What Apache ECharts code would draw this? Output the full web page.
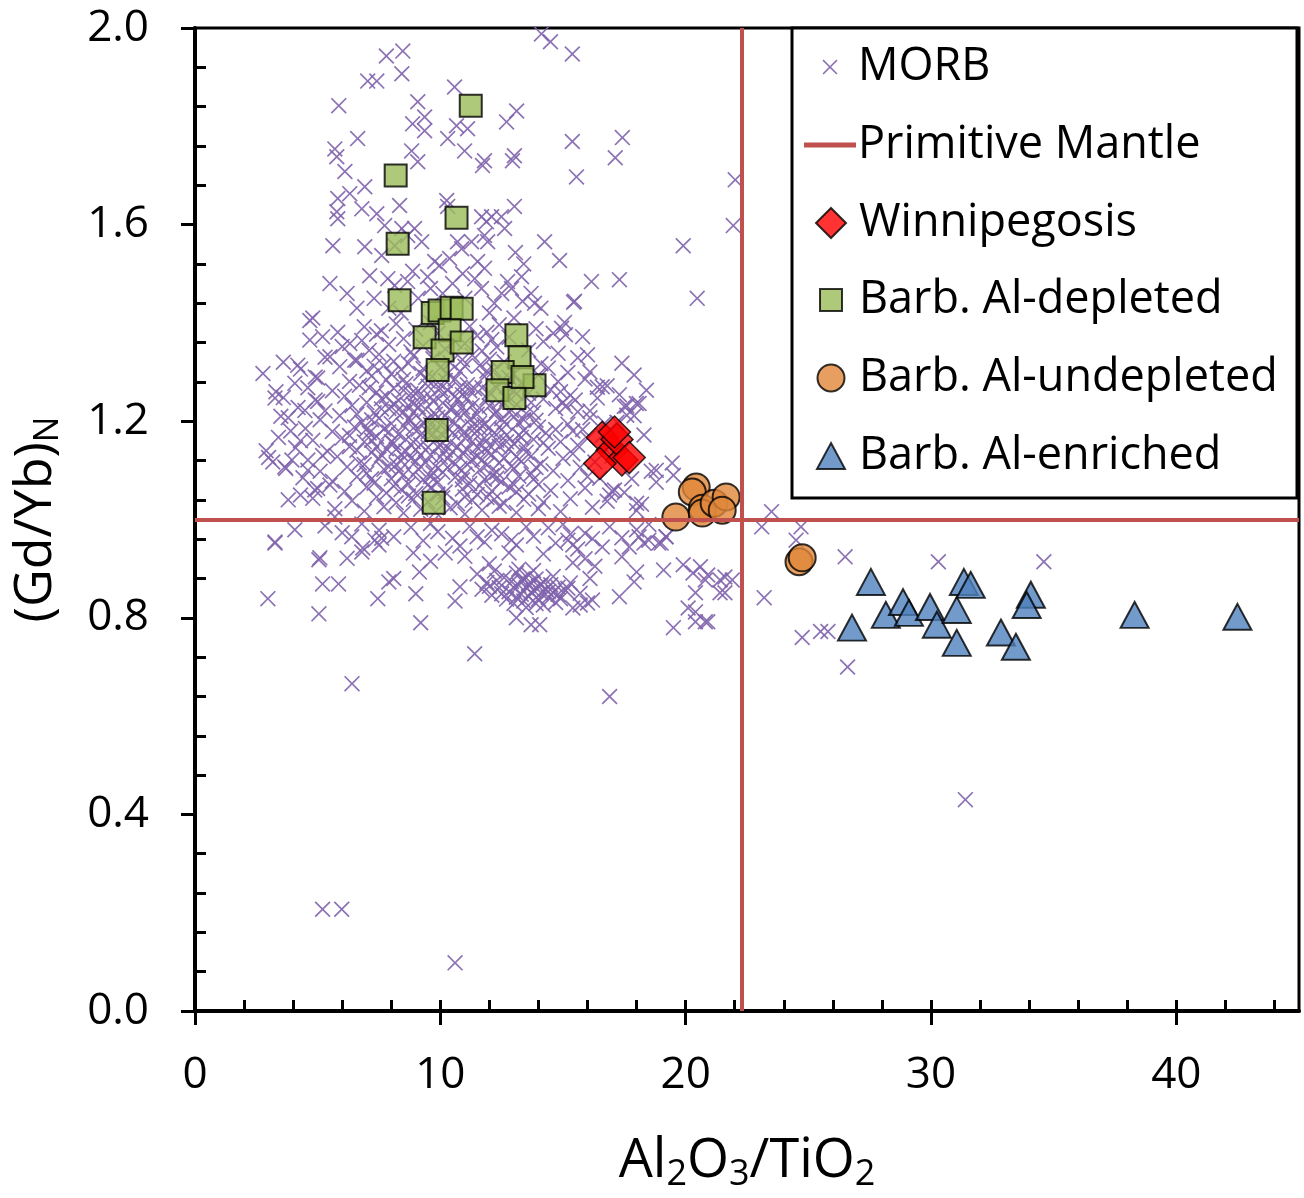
<!DOCTYPE html>
<html>
<head>
<meta charset="utf-8">
<script src="https://cdn.jsdelivr.net/npm/echarts@6/dist/echarts.min.js"></script>
<style>
  html, body { margin: 0; padding: 0; background: #fff; }
  #chart { width: 1304px; height: 1198px; }
</style>
</head>
<body>
<div id="chart"></div>
<script>
// MORB field (Al2O3/TiO2, (Gd/Yb)N)
const morb = [
  // upper scatter
  [7.80,1.943],[8.47,1.953],[8.43,1.907],[7.04,1.892],[7.41,1.892],[10.58,1.880],[5.86,1.842],[9.08,1.850],
  [9.36,1.819],[8.87,1.805],[9.36,1.791],[10.66,1.801],[11.11,1.795],[10.30,1.775],[10.99,1.750],[8.83,1.750],
  [9.08,1.728],[11.80,1.730],[11.72,1.720],[12.70,1.809],[13.11,1.831],[13.02,1.740],[12.94,1.730],[15.38,1.947],
  [14.12,1.988],[14.49,1.972],[15.38,1.769],[15.55,1.697],[5.70,1.754],[5.78,1.738],[6.63,1.775],[6.11,1.708],
  [6.92,1.677],[5.82,1.653],[6.31,1.663],[5.78,1.626],[5.82,1.612],[6.80,1.632],[7.41,1.622],[7.73,1.598],
  [8.34,1.639],[8.95,1.592],[8.43,1.592],[10.26,1.649],[10.30,1.637],[11.68,1.616],[11.88,1.606],[12.09,1.616],
  [12.49,1.616],[13.02,1.637],[12.62,1.592],[11.80,1.578],[11.93,1.565],[14.25,1.565],[5.62,1.557],[6.92,1.555],
  [7.61,1.537],[8.14,1.557],[8.67,1.578],[9.24,1.565],[9.77,1.525],[9.97,1.517],[10.70,1.565],[10.87,1.551],
  [11.27,1.565],[10.38,1.531],[11.52,1.525],[11.80,1.511],[11.68,1.470],[7.12,1.496],[7.86,1.490],[8.14,1.476],
  [8.87,1.505],[8.67,1.484],[9.48,1.494],[10.91,1.500],[12.74,1.484],[13.31,1.494],[13.35,1.444],[13.84,1.440],
  [15.47,1.444],[17.42,1.777],[17.13,1.736],[22.02,1.691],[21.94,1.598],[19.90,1.557],[17.30,1.488],[15.43,1.442],
  [15.06,1.401],[14.94,1.389],[16.16,1.484],[20.47,1.450],[14.86,1.527],[13.06,1.543],[13.40,1.520],[12.90,1.470],
  [13.70,1.460],[14.10,1.430],[9.10,1.450],[9.60,1.470],[10.10,1.460],[10.50,1.480],[11.00,1.450],[11.40,1.490],
  [12.20,1.440],[12.50,1.460],[7.30,1.450],[7.90,1.430],[8.40,1.420],[6.60,1.430],[6.20,1.460],[5.50,1.480],
  [4.80,1.410],[13.00,1.410],[12.00,1.420],
  // left wing
  [4.68,1.405],[4.68,1.365],[5.82,1.381],[6.31,1.358],[6.51,1.324],[2.77,1.297],[3.26,1.247],[3.17,1.117],
  [4.07,1.277],[4.19,1.314],[4.48,1.222],[3.95,1.121],[3.66,1.107],[4.88,1.060],[4.07,0.979],[3.26,0.954],
  [5.09,0.922],[5.70,1.005],[6.39,0.965],[7.33,0.958],[7.61,0.962],[6.84,0.942],[3.50,1.210],[3.90,1.180],
  [4.30,1.160],[3.30,1.260],[2.90,1.140],[3.60,1.320],[4.90,1.290],[5.30,1.330],[5.00,1.240],[4.60,1.100],
  [5.20,1.130],[4.30,1.050],[3.80,1.040],[5.50,1.070],
  // main cloud
  [6.9,1.392],[7.6,1.384],[8.2,1.398],[9.0,1.387],[9.6,1.401],[11.2,1.393],[11.9,1.381],[12.4,1.396],[13.9,1.388],[14.6,1.379],
  [5.2,1.372],[6.8,1.364],[7.4,1.377],[8.5,1.368],[9.9,1.379],[10.6,1.362],[11.5,1.374],[12.1,1.366],[12.8,1.371],[14.2,1.362],[15.1,1.376],
  [6.0,1.352],[7.1,1.344],[7.9,1.356],[8.8,1.341],[9.3,1.353],[10.2,1.347],[11.0,1.358],[11.7,1.343],[12.3,1.351],[13.6,1.345],[14.8,1.338],
  [5.5,1.331],[6.6,1.324],[7.5,1.336],[8.1,1.322],[8.9,1.333],[9.7,1.327],[10.4,1.319],[11.3,1.334],[12.0,1.326],[12.6,1.321],[14.1,1.317],[15.6,1.329],
  [4.3,1.306],[5.9,1.311],[7.0,1.302],[7.7,1.314],[8.4,1.305],[9.2,1.297],[10.0,1.309],[10.8,1.301],[11.6,1.313],[12.2,1.304],[13.0,1.296],[14.4,1.308],[15.2,1.299],
  [5.0,1.288],[6.3,1.281],[7.2,1.292],[7.8,1.284],[8.6,1.276],[9.4,1.289],[9.9,1.279],[10.6,1.286],[11.1,1.274],[11.8,1.291],[12.5,1.283],[13.3,1.277],[14.0,1.294],[15.9,1.286],[16.8,1.272],
  [4.6,1.268],[5.6,1.262],[6.7,1.273],[7.4,1.259],[8.1,1.267],[8.8,1.256],[9.5,1.271],[10.3,1.263],[10.9,1.254],[11.4,1.266],[12.0,1.259],[12.7,1.271],[13.6,1.257],[14.5,1.264],[15.3,1.253],
  [3.6,1.248],[4.9,1.243],[6.1,1.251],[7.0,1.238],[7.6,1.246],[8.3,1.242],[8.9,1.235],[9.6,1.249],[10.1,1.237],[10.7,1.244],[11.3,1.232],[11.9,1.247],[12.4,1.239],[13.1,1.234],[14.2,1.245],[15.0,1.238],[16.4,1.247],
  [4.2,1.228],[5.3,1.221],[6.4,1.232],[7.3,1.217],[7.9,1.226],[8.5,1.219],[9.1,1.229],[9.8,1.214],[10.4,1.224],[11.0,1.218],[11.6,1.227],[12.2,1.213],[12.9,1.222],[13.5,1.216],[14.7,1.226],[15.6,1.219],[17.6,1.231],
  [3.8,1.207],[5.1,1.203],[5.9,1.211],[6.8,1.198],[7.5,1.206],[8.0,1.195],[8.7,1.204],[9.3,1.198],[9.9,1.208],[10.6,1.196],[11.2,1.203],[11.8,1.193],[12.5,1.205],[13.2,1.197],[13.9,1.202],[15.2,1.194],[16.1,1.207],[17.2,1.198],
  [4.5,1.185],[5.6,1.179],[6.5,1.188],[7.1,1.176],[7.7,1.184],[8.3,1.173],[8.9,1.186],[9.5,1.178],[10.1,1.171],[10.8,1.183],[11.4,1.175],[12.0,1.187],[12.7,1.172],[13.4,1.181],[14.3,1.176],[15.8,1.183],[16.6,1.171],
  [3.4,1.167],[4.8,1.161],[6.0,1.166],[6.9,1.158],[7.4,1.169],[8.1,1.155],[8.6,1.163],[9.2,1.152],[9.8,1.162],[10.4,1.157],[11.0,1.166],[11.7,1.151],[12.3,1.161],[13.0,1.154],[13.8,1.163],[14.9,1.158],[16.0,1.165],[18.3,1.172],
  [4.1,1.146],[5.4,1.139],[6.3,1.148],[7.2,1.136],[7.8,1.144],[8.4,1.133],[9.0,1.142],[9.6,1.131],[10.2,1.141],[10.9,1.135],[11.5,1.147],[12.1,1.132],[12.8,1.143],[13.5,1.137],[14.4,1.145],[15.4,1.134],
  [3.0,1.126],[4.6,1.121],[5.8,1.128],[6.7,1.115],[7.5,1.123],[8.2,1.112],[8.8,1.124],[9.4,1.116],[10.0,1.127],[10.6,1.113],[11.3,1.122],[11.9,1.111],[12.6,1.125],[13.3,1.118],[14.1,1.113],[15.0,1.124],[16.3,1.117],[17.0,1.129],
  [3.7,1.104],[5.1,1.098],[6.2,1.107],[7.0,1.094],[7.7,1.102],[8.5,1.091],[9.1,1.103],[9.7,1.095],[10.3,1.106],[11.0,1.092],[11.6,1.101],[12.3,1.096],[13.0,1.104],[13.7,1.093],[14.6,1.099],[15.7,1.106],
  [4.4,1.085],[5.6,1.078],[6.6,1.087],[7.3,1.074],[8.0,1.083],[8.7,1.072],[9.3,1.081],[9.9,1.076],[10.6,1.086],[11.2,1.073],[11.8,1.082],[12.5,1.077],[13.2,1.088],[14.0,1.071],[15.2,1.079],[16.5,1.084],[18.8,1.076],
  [5.0,1.063],[6.1,1.057],[7.0,1.066],[7.8,1.054],[8.4,1.061],[9.0,1.053],[9.6,1.064],[10.2,1.056],[10.9,1.062],[11.5,1.051],[12.1,1.058],[12.8,1.066],[13.6,1.052],[14.5,1.059],[15.9,1.064],[17.5,1.055],
  [4.8,1.043],[6.4,1.038],[7.4,1.046],[8.2,1.034],[8.9,1.041],[9.5,1.036],[10.1,1.044],[10.7,1.032],[11.3,1.039],[11.9,1.045],[12.6,1.033],[13.4,1.041],[14.2,1.035],[15.3,1.042],[16.8,1.037],[18.2,1.031],
  [5.7,1.022],[6.9,1.017],[7.7,1.026],[8.5,1.013],[9.2,1.021],[9.8,1.015],[10.4,1.024],[11.0,1.011],[11.7,1.019],[12.4,1.027],[13.1,1.014],[14.0,1.022],[14.9,1.016],[16.2,1.025],[18.0,1.018],
  // dense core
  [8.5,1.285],[9.1,1.262],[9.7,1.241],[10.2,1.283],[10.5,1.227],[11.1,1.246],[11.7,1.268],[8.2,1.219],[8.8,1.201],[9.4,1.224],
  [10.0,1.193],[10.7,1.212],[11.3,1.189],[12.0,1.231],[12.6,1.198],[8.0,1.158],[8.6,1.139],[9.2,1.172],[9.9,1.148],[10.5,1.176],
  [11.1,1.142],[11.8,1.166],[12.4,1.149],[8.3,1.098],[9.0,1.118],[9.6,1.087],[10.3,1.124],[10.8,1.104],[11.5,1.128],[12.1,1.089],
  [12.9,1.108],[13.3,1.167],[13.7,1.129],[13.1,1.256],[13.8,1.217],[9.3,1.307],[10.9,1.325],[7.6,1.225],[7.2,1.161],[7.9,1.107],
  [8.7,1.232],[9.0,1.256],[10.8,1.269],[11.5,1.214],[12.2,1.176],[9.5,1.205],[10.1,1.255],[11.9,1.138],[12.7,1.245],[13.4,1.203],
  [7.3,1.312],[8.0,1.296],[8.7,1.318],[9.5,1.282],[10.3,1.297],[11.0,1.312],[11.9,1.302],[12.8,1.289],
  [7.1,1.268],[7.8,1.251],[8.5,1.263],[9.3,1.247],[10.0,1.266],[10.6,1.251],[11.2,1.262],[12.3,1.268],[13.0,1.262],
  [6.6,1.214],[7.2,1.203],[8.1,1.234],[8.9,1.217],[9.6,1.193],[10.2,1.211],[10.9,1.229],[11.6,1.196],[12.3,1.221],[13.0,1.209],[13.7,1.238],
  [6.3,1.171],[7.0,1.184],[7.9,1.178],[8.5,1.191],[9.1,1.183],[9.7,1.174],[10.3,1.187],[11.0,1.178],[11.6,1.186],[12.5,1.183],[13.2,1.172],[14.0,1.188],
  [6.6,1.141],[7.4,1.148],[8.2,1.143],[8.9,1.158],[9.5,1.147],[10.1,1.155],[10.7,1.148],[11.3,1.158],[12.0,1.151],[12.7,1.158],[13.4,1.149],[14.2,1.156],
  [6.9,1.112],[7.6,1.131],[8.4,1.119],[9.2,1.131],[9.8,1.109],[10.5,1.138],[11.1,1.112],[11.7,1.121],[12.4,1.115],[13.1,1.128],[13.9,1.106],
  [7.2,1.083],[8.1,1.068],[8.9,1.091],[9.5,1.071],[10.1,1.096],[10.9,1.081],[11.6,1.069],[12.3,1.084],[13.0,1.071],[13.8,1.082],
  [8.7,1.048],[9.9,1.052],[11.0,1.046],[12.2,1.041],[13.1,1.056],
  // right edge of the cloud
  [14.8,1.281],[15.5,1.243],[16.1,1.221],[16.7,1.196],[17.3,1.254],[17.9,1.211],[18.1,1.236],[17.6,1.212],[16.9,1.148],[17.8,1.083],
  [18.6,1.098],[19.45,1.115],[19.5,1.09],[18.8,1.10],[18.0,1.033],[17.0,1.058],[16.0,1.087],[15.6,1.151],[14.7,1.183],[16.4,1.269],
  [17.4,1.318],[16.0,1.335],[15.8,1.372],[17.9,1.294],[18.4,1.263],[17.99,1.236],[15.4,1.180],[15.1,1.230],[16.6,1.270],[16.9,1.050],
  [17.1,1.060],[16.1,1.300],[17.5,1.230],[14.9,1.260],
  // just below the primitive mantle line
  [5.3,0.987],[6.0,0.973],[6.8,0.991],[7.5,0.978],[8.1,0.965],[8.8,0.984],[9.3,0.957],[9.9,0.975],[10.5,0.962],[11.2,0.986],
  [11.8,0.954],[12.5,0.971],[13.1,0.948],[13.8,0.966],[14.4,0.983],[15.2,0.958],[15.9,0.972],[16.6,0.944],[17.4,0.963],[18.0,0.979],
  [18.3,0.952],[19.0,0.952],[18.5,0.990],[19.2,0.965],[17.4,0.924],[15.4,0.948],[15.4,0.912],[10.2,0.932],[8.9,0.932],[6.8,0.934],
  [7.5,0.948],[12.8,0.932],[3.26,0.952],[5.05,0.918],[6.2,0.921],[9.6,0.915],[11.0,0.925],[14.2,0.930],[16.3,0.905],[12.0,0.910],
  [18.1,0.965],[18.5,0.958],[18.9,0.952],[19.2,0.965],[15.0,0.990],[15.3,0.970],[15.6,0.940],[15.9,0.920],[16.1,0.880],[15.2,0.860],
  [15.7,0.850],[16.0,0.830],[15.4,0.820],[9.6,0.992],[10.8,0.946],[12.1,0.978],[13.5,0.985],[14.7,0.952],[16.2,0.961],[16.9,0.985],
  [17.7,0.944],[11.5,0.965],[12.9,0.958],
  // dense patch near 0.87
  [11.5,0.889],[11.9,0.872],[12.2,0.895],[12.4,0.861],[12.6,0.882],[12.8,0.853],[12.9,0.874],[13.1,0.891],[13.2,0.866],[13.3,0.848],
  [13.4,0.879],[13.5,0.861],[13.6,0.887],[13.6,0.843],[13.7,0.871],[13.8,0.856],[13.9,0.879],[14.0,0.864],[14.0,0.838],[14.1,0.851],
  [14.2,0.873],[14.3,0.858],[14.4,0.842],[14.5,0.867],[14.6,0.851],[14.8,0.862],[14.9,0.839],[15.1,0.856],[15.3,0.871],[12.1,0.846],
  [12.7,0.838],[13.0,0.829],[13.4,0.834],[13.9,0.829],[14.2,0.826],[13.2,0.899],[13.8,0.896],[14.6,0.884],[11.7,0.858],[12.3,0.876],
  [13.5,0.821],[14.7,0.831],[12.0,0.864],[12.5,0.849],[13.0,0.861],[13.3,0.877],[13.7,0.852],[14.1,0.866],[14.4,0.853],[13.6,0.869],
  [14.8,0.848],[13.1,0.842],
  // sparse lower points
  [13.1,0.800],[13.7,0.786],[14.05,0.786],[15.7,0.826],[16.2,0.836],[17.3,0.843],[17.9,0.873],[19.5,0.780],[20.1,0.820],[20.4,0.812],
  [20.4,0.792],[20.9,0.792],[20.4,0.851],[19.9,0.908],[20.6,0.904],[20.9,0.887],[21.6,0.851],[21.9,0.877],[19.1,0.897],[18.0,0.893],
  [5.2,0.869],[5.85,0.869],[2.97,0.839],[5.05,0.808],[7.45,0.839],[8.1,0.880],[7.9,0.873],[9.0,0.849],[9.2,0.790],[9.15,0.893],
  [10.6,0.834],[10.8,0.863],[11.4,0.727],[6.4,0.666],[16.9,0.640],[5.2,0.207],[5.98,0.207],[10.6,0.098],
  [20.3,0.891],[20.8,0.877],[21.4,0.877],[21.6,0.883],[21.4,0.851],[20.8,0.792],
  // right of the primitive mantle line
  [23.5,1.016],[23.1,0.985],[24.7,0.985],[24.5,0.958],[26.5,0.924],[23.2,0.841],[24.75,0.760],[25.5,0.772],[25.8,0.772],[26.6,0.700],
  [30.3,0.914],[34.6,0.914],[31.4,0.430]
];

const winnipegosis = [[16.6,1.167],[17.0,1.141],[17.4,1.121],[16.5,1.114],[17.2,1.163],[17.7,1.126],[17.1,1.178]];

const alDepleted = [
  [11.24,1.842],[8.18,1.700],[10.66,1.614],[8.26,1.561],[8.34,1.446],[9.69,1.420],[9.97,1.425],[10.46,1.431],
  [10.87,1.429],[9.36,1.371],[10.38,1.385],[10.09,1.344],[10.87,1.360],[9.89,1.304],[13.10,1.375],[13.23,1.330],
  [12.54,1.300],[12.33,1.263],[13.84,1.273],[13.02,1.247],[13.35,1.290],[9.85,1.182],[9.73,1.034]
];

const alUndepleted = [
  [19.6,1.005],[20.43,1.066],[20.27,1.056],[20.68,1.023],[20.68,1.013],[21.16,1.033],[21.65,1.046],[21.49,1.019],
  [24.62,0.914],[24.75,0.922]
];

const alEnriched = [
  [27.55,0.873],[26.78,0.780],[28.16,0.806],[28.86,0.832],[29.10,0.810],[29.96,0.822],[30.24,0.786],[31.05,0.816],
  [31.34,0.873],[31.62,0.867],[31.05,0.749],[32.85,0.770],[33.46,0.741],[34.07,0.847],[33.90,0.826],[38.30,0.806],
  [42.49,0.802]
];

// primitive mantle reference values
const pmAlTi = 22.3;
const pmGdYb = 1.0;

// ticks
const xLabelTicks = [0, 10, 20, 30, 40];
const xInnerTicks = [2, 4, 6, 8, 10, 12, 14, 16, 18, 20, 22, 24, 26, 28, 30, 32, 34, 36, 38, 40, 42, 44];
const yLabelTicks = [0, 0.4, 0.8, 1.2, 1.6, 2.0];
const yInnerTicks = [0.08, 0.16, 0.24, 0.32, 0.48, 0.56, 0.64, 0.72, 0.88, 0.96, 1.04, 1.12,
  1.28, 1.36, 1.44, 1.52, 1.68, 1.76, 1.84, 1.92];

const font = '"Open Sans", "Noto Sans", sans-serif';
// thin x mark, filled outline
const crossPath = 'path://M0,0.75 L0.75,0 L5,4.25 L9.25,0 L10,0.75 L5.75,5 L10,9.25 L9.25,10 L5,5.75 L0.75,10 L0,9.25 L4.25,5 Z';

const chart = echarts.init(document.getElementById('chart'), null, { renderer: 'canvas' });

// one legend per row so each icon gets its own size
function legendRow(name, icon, w, h, cy, extra) {
  return Object.assign({
    data: [{ name: name, icon: icon }],
    orient: 'vertical',
    left: 830 - w / 2,
    top: cy - 26,
    padding: 0,
    itemWidth: w,
    itemHeight: h,
    selectedMode: false,
    z: 20,
    textStyle: {
      fontFamily: font,
      fontSize: 45,
      color: '#000',
      lineHeight: 52,
      padding: [0, 0, 0, 28 - w / 2 - 5]
    }
  }, extra || {});
}

const option = {
  animation: false,
  backgroundColor: '#fff',
  grid: {
    left: 195,
    right: 5,
    top: 28,
    bottom: 186,
    show: true,
    borderColor: '#000',
    borderWidth: 3,
    backgroundColor: 'transparent'
  },
  xAxis: [
    {
      type: 'value',
      min: 0,
      max: 45,
      position: 'bottom',
      name: 'Al{s|2}O{s|3}/TiO{s|2}',
      nameLocation: 'middle',
      nameGap: 120,
      nameTextStyle: {
        fontFamily: font,
        fontSize: 54,
        color: '#000',
        rich: { s: { fontFamily: font, fontSize: 36, color: '#000', padding: [26, 0, 0, 0] } }
      },
      axisLine: { show: true, onZero: false, lineStyle: { color: '#000', width: 4 } },
      axisTick: { show: true, length: 14, customValues: xLabelTicks, lineStyle: { color: '#000', width: 3 } },
      axisLabel: { customValues: xLabelTicks, fontFamily: font, fontSize: 44, color: '#000', margin: 42 },
      splitLine: { show: false }
    },
    {
      type: 'value',
      min: 0,
      max: 45,
      position: 'bottom',
      axisLine: { show: false },
      axisTick: { show: true, inside: true, length: 11, customValues: xInnerTicks, lineStyle: { color: '#000', width: 3 } },
      axisLabel: { show: false },
      splitLine: { show: false }
    }
  ],
  yAxis: [
    {
      type: 'value',
      min: 0,
      max: 2,
      position: 'left',
      name: '(Gd/Yb){s|N}',
      nameLocation: 'middle',
      nameRotate: 90,
      nameGap: 130,
      nameTextStyle: {
        fontFamily: font,
        fontSize: 52,
        color: '#000',
        rich: { s: { fontFamily: font, fontSize: 34, color: '#000', padding: [24, 0, 0, 0] } }
      },
      axisLine: { show: true, onZero: false, lineStyle: { color: '#000', width: 4 } },
      axisTick: { show: true, length: 14, customValues: yLabelTicks, lineStyle: { color: '#000', width: 3 } },
      axisLabel: {
        customValues: yLabelTicks,
        fontFamily: font,
        fontSize: 44,
        color: '#000',
        margin: 46,
        formatter: v => v.toFixed(1)
      },
      splitLine: { show: false }
    },
    {
      type: 'value',
      min: 0,
      max: 2,
      position: 'left',
      axisLine: { show: false },
      axisTick: { show: true, inside: true, length: 11, customValues: yInnerTicks, lineStyle: { color: '#000', width: 3 } },
      axisLabel: { show: false },
      splitLine: { show: false }
    }
  ],
  legend: [
    legendRow('MORB', crossPath, 15, 15, 67),
    legendRow('Primitive Mantle', 'rect', 52, 5, 145, { itemStyle: { color: '#C0504D' } }),
    legendRow('Winnipegosis', 'diamond', 30, 30, 223),
    legendRow('Barb. Al-depleted', 'rect', 22, 22, 300),
    legendRow('Barb. Al-undepleted', 'circle', 27, 27, 378),
    legendRow('Barb. Al-enriched', 'triangle', 28, 26, 456)
  ],
  graphic: [
    {
      type: 'rect',
      z: 10,
      shape: { x: 792, y: 28, width: 505, height: 470 },
      style: { fill: '#fff', stroke: '#000', lineWidth: 3 }
    }
  ],
  series: [
    {
      name: 'MORB',
      type: 'scatter',
      data: morb,
      symbol: crossPath,
      symbolSize: 16,
      itemStyle: { color: '#7F63AC', opacity: 0.9 }
    },
    {
      name: 'Primitive Mantle',
      type: 'line',
      data: [],
      symbol: 'none',
      color: '#C0504D',
      lineStyle: { color: '#C0504D', width: 4 },
      markLine: {
        silent: true,
        symbol: 'none',
        label: { show: false },
        lineStyle: { color: '#C0504D', width: 4, type: 'solid' },
        data: [{ xAxis: pmAlTi }, { yAxis: pmGdYb }]
      }
    },
    {
      name: 'Winnipegosis',
      type: 'scatter',
      data: winnipegosis,
      symbol: 'diamond',
      symbolSize: 32,
      itemStyle: { color: '#FF0000', borderColor: '#000', borderWidth: 1.5 }
    },
    {
      name: 'Barb. Al-depleted',
      type: 'scatter',
      data: alDepleted,
      symbol: 'rect',
      symbolSize: 22,
      itemStyle: { color: '#9BBB59', borderColor: '#000', borderWidth: 2 }
    },
    {
      name: 'Barb. Al-undepleted',
      type: 'scatter',
      data: alUndepleted,
      symbol: 'circle',
      symbolSize: 27,
      itemStyle: { color: '#E0873A', borderColor: '#000', borderWidth: 2 }
    },
    {
      name: 'Barb. Al-enriched',
      type: 'scatter',
      data: alEnriched,
      symbol: 'triangle',
      symbolSize: [28, 26],
      itemStyle: { color: '#4F81BD', borderColor: '#000', borderWidth: 2 }
    }
  ]
};

chart.setOption(option);
</script>
</body>
</html>
